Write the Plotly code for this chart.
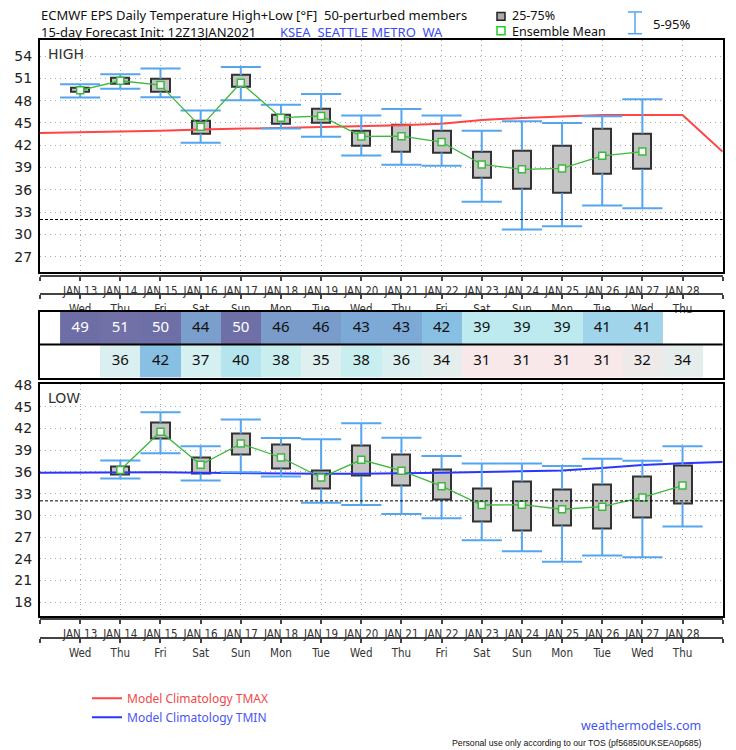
import plotly.graph_objects as go

# ---------------- data ----------------
days = list(range(13, 29))  # Jan 13 .. Jan 28
day_labels = ["JAN 13", "JAN 14", "JAN 15", "JAN 16", "JAN 17", "JAN 18", "JAN 19", "JAN 20",
              "JAN 21", "JAN 22", "JAN 23", "JAN 24", "JAN 25", "JAN 26", "JAN 27", "JAN 28"]
weekdays = ["Wed", "Thu", "Fri", "Sat", "Sun", "Mon", "Tue", "Wed",
            "Thu", "Fri", "Sat", "Sun", "Mon", "Tue", "Wed", "Thu"]

high_days = list(range(13, 28))
high_p5 = [48.41, 49.61, 48.45, 42.34, 48.06, 44.25, 43.14, 40.61, 39.37, 39.24, 34.40, 30.64, 31.08, 33.87, 33.52]
high_q1 = [49.17, 50.23, 49.19, 43.58, 49.83, 44.91, 45.05, 41.99, 41.19, 41.01, 37.64, 36.18, 35.56, 38.22, 38.79]
high_q3 = [49.79, 51.07, 50.94, 45.27, 51.43, 46.15, 46.91, 43.94, 44.78, 43.98, 41.14, 41.32, 41.99, 44.20, 43.58]
high_p95 = [50.19, 51.56, 52.32, 46.68, 52.54, 47.44, 48.90, 45.98, 46.86, 45.98, 43.94, 45.22, 45.00, 45.89, 48.19]
high_mean = [49.39, 50.67, 50.10, 44.47, 50.41, 45.71, 45.93, 43.18, 43.21, 42.43, 39.41, 38.75, 38.88, 40.57, 41.14]

low_days = list(range(14, 29))
low_p5 = [35.08, 38.60, 34.81, 35.95, 35.36, 31.75, 31.43, 30.20, 29.60, 26.54, 25.04, 23.58, 24.44, 24.21, 28.46]
low_q1 = [35.68, 40.70, 35.77, 38.42, 36.50, 33.71, 35.45, 34.17, 32.16, 29.15, 27.91, 28.60, 28.19, 29.69, 31.70]
low_q3 = [36.73, 42.80, 37.96, 41.29, 39.74, 36.27, 39.65, 38.46, 36.36, 33.76, 34.67, 33.62, 34.31, 35.36, 36.95]
low_p95 = [37.59, 44.26, 39.56, 43.26, 40.70, 40.52, 42.75, 40.74, 38.19, 37.18, 37.18, 36.82, 37.82, 37.55, 39.56]
low_mean = [36.27, 41.57, 37.00, 39.92, 38.00, 35.22, 37.68, 36.18, 34.03, 31.43, 31.47, 30.84, 31.20, 32.48, 34.12]

clim_days = list(range(12, 30))
clim_tmax = [43.63, 43.72, 43.83, 43.95, 44.10, 44.20, 44.30, 44.43, 44.56, 44.70, 44.90, 45.40,
             45.66, 45.89, 46.05, 46.06, 46.06, 41.10]
clim_tmin = [35.90, 35.95, 36.00, 35.95, 35.88, 35.82, 35.78, 35.75, 35.75, 35.77, 35.88, 35.98,
             36.08, 36.20, 36.55, 36.95, 37.20, 37.37]

table_high = [49, 51, 50, 44, 50, 46, 46, 43, 43, 42, 39, 39, 39, 41, 41]   # Jan 13 .. Jan 27
table_low = [36, 42, 37, 40, 38, 35, 38, 36, 34, 31, 31, 31, 31, 32, 34]    # Jan 14 .. Jan 28

high_ticks = list(range(27, 55, 3))
low_ticks = list(range(18, 49, 3))
FREEZING = 32

# ---------------- styles ----------------
W, H = 736, 750
def px(x): return x / W
def py(y): return 1 - y / H

SANS = "Noto Sans, Open Sans, DejaVu Sans, sans-serif"
DEJAVU = "DejaVu Sans, sans-serif"
COND = "DejaVu Sans Condensed, Liberation Sans Narrow, DejaVu Sans, sans-serif"
BOX_FILL = "#c4c4c4"
BOX_LINE = "#333333"
WHISK = "#55a5f0"
GREEN = "#3cb93c"
RED = "#ff4545"
BLUE = "#2a35ff"

XDOM = [px(40), px(722.7)]
XRANGE = [12, 29]

fig = go.Figure()


def whisker_xy(dd, lo, q1, q3, hi):
    xs, ys = [], []
    for d, a, b, c, e in zip(dd, lo, q1, q3, hi):
        xs += [d, d, None, d, d, None, d - 0.5, d + 0.5, None, d - 0.5, d + 0.5, None]
        ys += [e, c, None, b, a, None, e, e, None, a, a, None]
    return xs, ys


def add_panel(dd, lo, q1, q3, hi, mean, xa, ya):
    wx, wy = whisker_xy(dd, lo, q1, q3, hi)
    fig.add_trace(go.Scatter(x=wx, y=wy, mode="lines", line=dict(color=WHISK, width=2),
                             xaxis=xa, yaxis=ya, showlegend=False, hoverinfo="skip"))
    fig.add_trace(go.Bar(x=dd, base=q1, y=[b - a for a, b in zip(q1, q3)], width=0.45,
                         marker=dict(color=BOX_FILL, line=dict(color=BOX_LINE, width=2)),
                         xaxis=xa, yaxis=ya, showlegend=False))
    fig.add_trace(go.Scatter(x=dd, y=mean, mode="lines+markers",
                             line=dict(color=GREEN, width=1.3),
                             marker=dict(symbol="square", size=7, color="white",
                                         line=dict(color=GREEN, width=1.5)),
                             xaxis=xa, yaxis=ya, showlegend=False))


# climatology lines (drawn first)
fig.add_trace(go.Scatter(x=clim_days, y=clim_tmax, mode="lines", line=dict(color=RED, width=2),
                         name="<span style='color:#f04848'>Model Climatology TMAX</span>",
                         xaxis="x", yaxis="y", showlegend=True))
fig.add_trace(go.Scatter(x=clim_days, y=clim_tmin, mode="lines", line=dict(color=BLUE, width=2),
                         name="<span style='color:#4a55f5'>Model Climatology TMIN</span>",
                         xaxis="x2", yaxis="y2", showlegend=True))

add_panel(high_days, high_p5, high_q1, high_q3, high_p95, high_mean, "x", "y")
add_panel(low_days, low_p5, low_q1, low_q3, low_p95, low_mean, "x2", "y2")

# ---------------- table ----------------
z_high = table_high + [None] * (len(days) - len(table_high))
z_low = [None] * (len(days) - len(table_low)) + table_low
colorscale = [
    [0.0, "#fde6e8"], [1 / 22, "#f8e8ea"], [2 / 22, "#eeeaea"], [4 / 22, "#e6eded"],
    [5 / 22, "#e0f0f0"], [7 / 22, "#d4f0f0"], [8 / 22, "#c8eef0"], [9 / 22, "#bceaee"],
    [10 / 22, "#b4e4ee"], [11 / 22, "#a0d4ea"], [12 / 22, "#88c0e4"], [13 / 22, "#7ca9d6"],
    [14 / 22, "#7a9fcc"], [16 / 22, "#7a9ccb"], [18 / 22, "#7080b8"], [19 / 22, "#6e6ea6"],
    [1.0, "#7272a8"],
]
fig.add_trace(go.Heatmap(x=days, y=[0, 1], z=[z_low, z_high], zmin=30, zmax=52,
                         colorscale=colorscale, showscale=False, xgap=0, ygap=0,
                         xaxis="x3", yaxis="y3", hoverinfo="skip"))
fig.add_trace(go.Scatter(x=high_days, y=[1] * len(high_days), mode="text",
                         text=[str(v) for v in table_high],
                         textfont=dict(family=SANS, size=15,
                                       color=["white" if v >= 47 else "#111111" for v in table_high]),
                         xaxis="x3", yaxis="y3", showlegend=False, hoverinfo="skip"))
fig.add_trace(go.Scatter(x=low_days, y=[0] * len(low_days), mode="text",
                         text=[str(v) for v in table_low],
                         textfont=dict(family=SANS, size=15,
                                       color=["white" if v >= 47 else "#111111" for v in table_low]),
                         xaxis="x3", yaxis="y3", showlegend=False, hoverinfo="skip"))

# dummy traces to bind strip axes
for xa, ya in [("x4", "y"), ("x5", "y"), ("x6", "y2"), ("x7", "y2")]:
    fig.add_trace(go.Scatter(x=[None], y=[None], mode="markers", xaxis=xa, yaxis=ya,
                             showlegend=False, hoverinfo="skip"))

grid = dict(showgrid=True, gridcolor="#a8a8a8", griddash="1px,4px", gridwidth=1)
frame = dict(showline=True, linecolor="black", linewidth=2, mirror=True, zeroline=False)
ytickfont = dict(family=DEJAVU, size=14, color="#222222")

plot_x = dict(domain=XDOM, range=XRANGE, tickvals=days, showticklabels=False, ticks="",
              **grid, **frame)

strip_common = dict(domain=XDOM, range=XRANGE, anchor="free", showline=True, linecolor="#444444",
                    linewidth=1.5, ticks="outside", ticklen=4, tickcolor="#444444", tickwidth=1.5,
                    showgrid=False, zeroline=False, tickvals=list(range(12, 30)),
                    tickfont=dict(family=COND, size=11.5, color="#333333"))
lab_dates = [""] + day_labels + [""]
lab_wk = [""] + weekdays + [""]

fig.update_layout(
    width=W, height=H, autosize=False,
    margin=dict(l=0, r=0, t=0, b=0),
    paper_bgcolor="white", plot_bgcolor="white",
    barmode="overlay", bargap=0,
    xaxis=dict(anchor="y", **plot_x),
    yaxis=dict(anchor="x", domain=[py(267), py(33)], range=[25, 56.2], tickvals=high_ticks,
               ticks="", ticklabelstandoff=3, tickfont=ytickfont, **grid, **frame),
    xaxis2=dict(anchor="y2", **plot_x),
    yaxis2=dict(anchor="x2", domain=[py(614.3), py(381)], range=[16.14, 48.1], tickvals=low_ticks,
                ticks="", ticklabelstandoff=3, tickfont=ytickfont, **grid, **frame),
    xaxis3=dict(anchor="y3", domain=XDOM, range=XRANGE, showticklabels=False, ticks="",
                showgrid=False, **frame),
    yaxis3=dict(anchor="x3", domain=[py(374), py(307.5)], range=[-0.5, 1.5], showticklabels=False,
                ticks="", showgrid=False, **frame),
    xaxis4=dict(overlaying="x", position=py(272), ticktext=lab_dates, **strip_common),
    xaxis5=dict(overlaying="x", position=py(290), ticktext=lab_wk, **strip_common),
    xaxis6=dict(overlaying="x2", position=py(618), ticktext=lab_dates, **strip_common),
    xaxis7=dict(overlaying="x2", position=py(637), ticktext=lab_wk, **strip_common),
    legend=dict(x=px(87), y=py(683), xanchor="left", yanchor="top", bgcolor="rgba(0,0,0,0)",
                font=dict(family=SANS, size=12), tracegroupgap=0, itemclick=False),
    showlegend=True,
)

# freezing lines
for xa, ya in [("x", "y"), ("x2", "y2")]:
    fig.add_shape(type="line", xref=f"{xa} domain", x0=0, x1=1, yref=ya, y0=FREEZING, y1=FREEZING,
                  line=dict(color="black", width=1, dash="3px,2px"))
# table row separator
fig.add_shape(type="line", xref="x3 domain", x0=0, x1=1, yref="y3", y0=0.5, y1=0.5,
              line=dict(color="black", width=2))

# header legend glyphs
fig.add_shape(type="rect", xref="paper", yref="paper", x0=px(497), x1=px(505), y0=py(13.5), y1=py(5.5),
              fillcolor="#aaaaaa", line=dict(color="#222222", width=1.5))
fig.add_shape(type="rect", xref="paper", yref="paper", x0=px(497), x1=px(505), y0=py(28), y1=py(20),
              fillcolor="white", line=dict(color="#22cc22", width=1.5))
for (x0, y0, x1, y1) in [(635, 5, 635, 27), (628, 5, 642, 5), (628, 27, 642, 27)]:
    fig.add_shape(type="line", xref="paper", yref="paper", x0=px(x0), y0=py(y0), x1=px(x1), y1=py(y1),
                  line=dict(color=WHISK, width=1.5))


def ann(text, x, y, size, color="#111111", family=SANS, xanchor="left", yanchor="middle"):
    fig.add_annotation(text=text, x=px(x), y=py(y), xref="paper", yref="paper", showarrow=False,
                       xanchor=xanchor, yanchor=yanchor, align="left",
                       font=dict(family=family, size=size, color=color))


NB = "\u00a0"
header = ("ECMWF EPS Daily Temperature High+Low [°F] " + NB + "50-perturbed members<br>"
          "15-day Forecast Init: 12Z13JAN2021" + NB * 7 +
          "<span style='color:#3a4cf5'>KSEA " + NB + "SEATTLE METRO " + NB + "WA</span>")
ann(header, 39, 16.5, 13)
ann("25-75%<br>Ensemble Mean", 510, 16.5, 12.5)
ann("5-95%", 651, 17, 13)
ann("HIGH", 46, 47, 14, color="#333333", family=DEJAVU)
ann("LOW", 46, 395, 14, color="#333333", family=DEJAVU)
ann("weathermodels.com", 703, 736, 12.5, color="#4455ee", xanchor="right", yanchor="bottom")
ann("Personal use only according to our TOS (pf5685I0UKSEA0p685)", 703, 735.5, 8.7,
    color="#111111", family="Liberation Sans, Arial, sans-serif", xanchor="right", yanchor="top")

fig.write_html("out.html", post_script="document.body.style.margin='0';",
               config={"displayModeBar": False})
